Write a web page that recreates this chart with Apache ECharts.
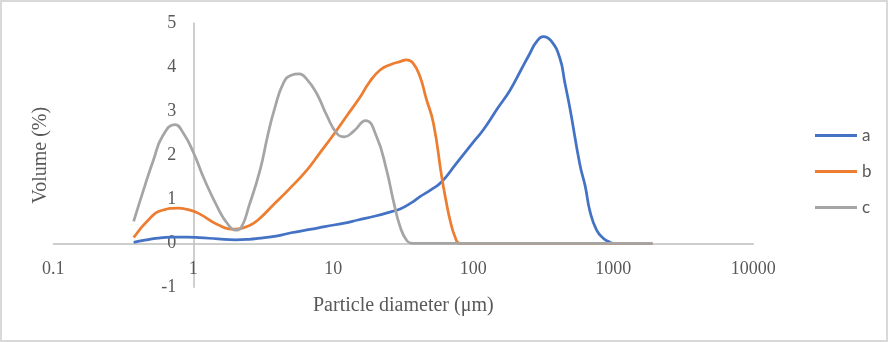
<!DOCTYPE html>
<html>
<head>
<meta charset="utf-8">
<script src="https://cdn.jsdelivr.net/npm/echarts@6/dist/echarts.min.js"></script>
<style>
html,body{margin:0;padding:0;background:#fff;}
#chart{width:888px;height:342px;}
</style>
</head>
<body>
<div id="chart"></div>
<script>
// Tick labels
var xTickLabels = ['0.1', '1', '10', '100', '1000', '10000'];
var yTickLabels = ['-1', '0', '1', '2', '3', '4', '5'];
var seriesNames = ['a', 'b', 'c'];

// Series a (blue)
var aX = [0.375, 0.45, 0.56, 0.7, 0.9, 1.1, 1.5, 2.0, 2.5, 2.9, 4, 5, 7, 8.7, 12, 15, 20, 26, 30, 36, 41.6, 50, 59.5, 75, 100, 118, 150, 183, 220, 254, 280, 316, 360, 416, 450, 490, 578, 630, 682, 760, 851, 950, 1000, 1900];
var aY = [0.02, 0.07, 0.12, 0.14, 0.14, 0.13, 0.1, 0.08, 0.09, 0.11, 0.17, 0.24, 0.32, 0.38, 0.46, 0.53, 0.62, 0.72, 0.78, 0.92, 1.06, 1.22, 1.40, 1.8, 2.3, 2.58, 3.08, 3.48, 3.95, 4.32, 4.56, 4.7, 4.6, 4.2, 3.66, 3.07, 1.78, 1.3, 0.72, 0.3, 0.11, 0.02, 0, 0];

// Series b (orange)
var bX = [0.375, 0.5, 0.6, 0.78, 0.9, 1.09, 1.5, 2.0, 2.5, 2.9, 3.8, 4.8, 6.5, 8, 10, 12.5, 15.6, 18, 21.6, 26, 30, 33.4, 37, 41.6, 46, 51.9, 59.5, 64, 68.2, 74, 80, 100, 500, 1900];
var bY = [0.13, 0.6, 0.75, 0.80, 0.77, 0.68, 0.42, 0.32, 0.4, 0.53, 0.9, 1.22, 1.67, 2.05, 2.46, 2.9, 3.33, 3.65, 3.94, 4.07, 4.13, 4.17, 4.1, 3.79, 3.3, 2.73, 1.51, 0.95, 0.53, 0.15, 0, 0, 0, 0];

// Series c (gray)
var cX = [0.375, 0.45, 0.52, 0.6, 0.74, 0.85, 1.0, 1.2, 1.5, 1.75, 2.0, 2.2, 2.5, 3.0, 3.4, 3.8, 4.4, 5.0, 5.7, 6.5, 7.6, 9.0, 10.6, 12, 14, 17, 20.4, 24, 26.8, 30, 33.4, 37, 50, 100, 500, 1900];
var cY = [0.5, 1.3, 1.9, 2.42, 2.70, 2.5, 2.07, 1.45, 0.8, 0.45, 0.3, 0.36, 0.85, 1.67, 2.45, 3.05, 3.64, 3.82, 3.85, 3.72, 3.41, 2.9, 2.5, 2.42, 2.55, 2.79, 2.42, 1.67, 0.98, 0.38, 0.07, 0, 0, 0, 0, 0];

function pairs(xs, ys) {
  return xs.map(function (x, i) { return [x, ys[i]]; });
}

var colors = ['#4472C4', '#ED7D31', '#A5A5A5'];
var serif = '"Liberation Serif", "DejaVu Serif", serif';
var chart = echarts.init(document.getElementById('chart'), null, {renderer: 'canvas'});

function mkSeries(name, xs, ys, color) {
  return {
    name: name,
    type: 'line',
    data: pairs(xs, ys),
    smooth: 0.5,
    symbol: 'none',
    showSymbol: false,
    lineStyle: {color: color, width: 2.75},
    itemStyle: {color: color}
  };
}

chart.setOption({
  animation: false,
  backgroundColor: '#fff',
  grid: {left: 53.3, top: 23.3, width: 700, height: 264, containLabel: false, outerBoundsMode: 'none'},
  legend: {
    orient: 'vertical',
    left: 810,
    top: 122,
    icon: 'rect',
    itemWidth: 42,
    itemHeight: 3,
    itemGap: 19,
    data: seriesNames,
    textStyle: {fontFamily: 'Lato, "Open Sans", sans-serif', fontSize: 17, color: '#595959', lineHeight: 17}
  },
  xAxis: {
    type: 'log',
    logBase: 10,
    min: 0.1,
    max: 10000,
    position: 'bottom',
    offset: -44,
    name: 'Particle diameter (\u03bcm)',
    nameLocation: 'middle',
    nameGap: 52,
    nameTextStyle: {fontFamily: serif, fontSize: 20, color: '#595959'},
    axisLine: {onZero: false, lineStyle: {color: '#BFBFBF', width: 1.5}},
    axisTick: {show: false},
    splitLine: {show: false},
    axisLabel: {
      margin: 17,
      fontFamily: serif, fontSize: 18, color: '#595959',
      formatter: function (v) {
        var i = Math.round(Math.log10(v)) + 1;
        return xTickLabels[i] !== undefined ? xTickLabels[i] : '';
      }
    }
  },
  yAxis: {
    type: 'value',
    min: -1,
    max: 5,
    interval: 1,
    position: 'left',
    offset: -140,
    name: 'Volume (%)',
    nameLocation: 'middle',
    nameGap: 143,
    nameTextStyle: {fontFamily: serif, fontSize: 20, color: '#595959'},
    axisLine: {show: true, onZero: false, lineStyle: {color: '#BFBFBF', width: 1.5}},
    axisTick: {show: false},
    splitLine: {show: false},
    axisLabel: {
      margin: 17,
      fontFamily: serif, fontSize: 18, color: '#595959',
      formatter: function (v) {
        var i = Math.round(v) + 1;
        return yTickLabels[i] !== undefined ? yTickLabels[i] : '';
      }
    }
  },
  graphic: [{
    type: 'rect',
    shape: {x: 1, y: 1, width: 886, height: 340},
    style: {fill: null, stroke: '#D9D9D9', lineWidth: 2},
    silent: true,
    z: -1
  }],
  series: [
    mkSeries(seriesNames[0], aX, aY, colors[0]),
    mkSeries(seriesNames[1], bX, bY, colors[1]),
    mkSeries(seriesNames[2], cX, cY, colors[2])
  ]
});
</script>
</body>
</html>
